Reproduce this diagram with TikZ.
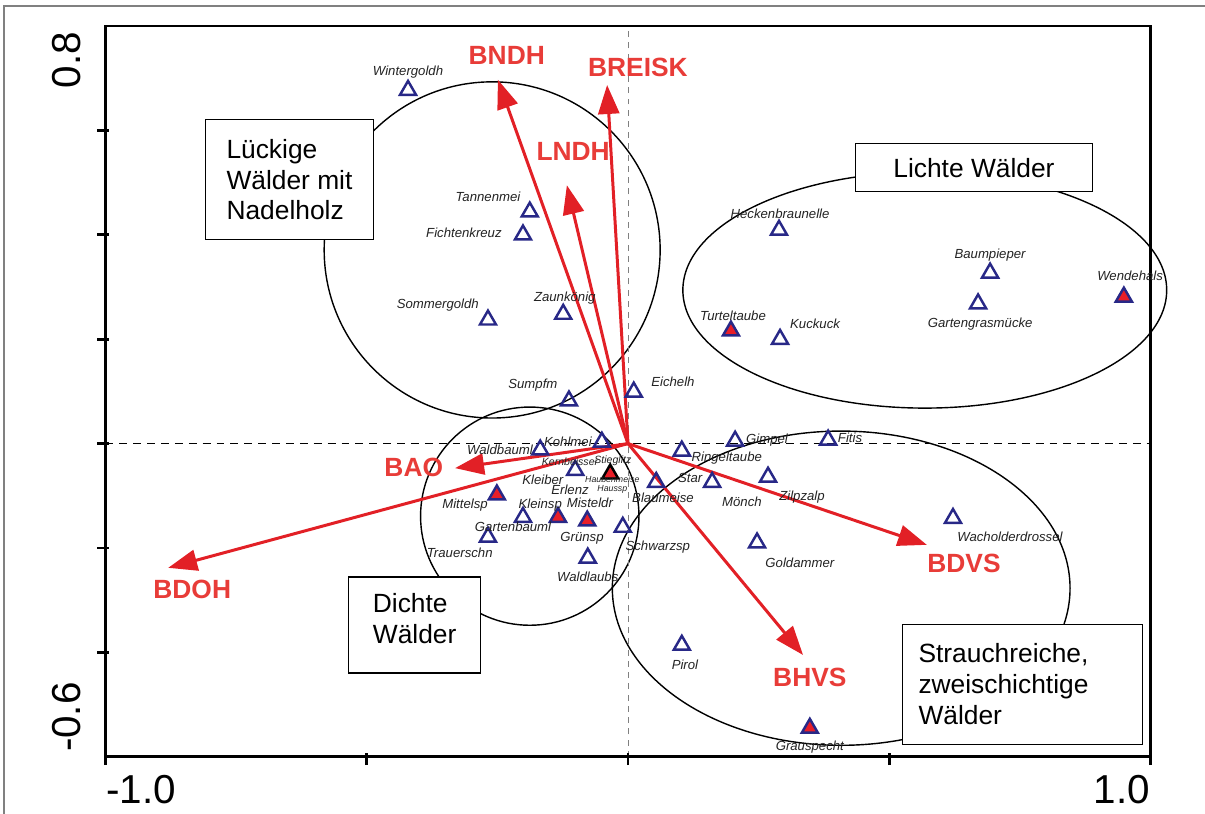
\documentclass[tikz,border=0pt]{standalone}
\usepackage{fontspec}
\setmainfont{Liberation Sans}
\usepackage{xcolor}
\definecolor{vecred}{RGB}{226,32,38}
\definecolor{veclabel}{RGB}{232,60,56}
\definecolor{birdblue}{RGB}{40,40,135}
\definecolor{birdfillred}{RGB}{232,30,40}
\definecolor{labgrey}{RGB}{35,35,35}
\usetikzlibrary{arrows.meta}
\usetikzlibrary{shapes.geometric}
\usetikzlibrary{positioning}

\tikzset{
	vec/.style={vecred, line width=1.7pt, -{Triangle[length=0.58cm,width=0.42cm]}},
	veclab/.style={text=veclabel, font=\fontsize{15}{18}\selectfont\bfseries, inner sep=0pt},
	bird/.style={regular polygon, regular polygon sides=3, draw=birdblue, line width=1.4pt, minimum size=0.37cm, inner sep=0pt},
	birdfill/.style={bird, fill=birdfillred},
	lab/.style={text=labgrey, font=\fontsize{7.5}{8}\selectfont\itshape, inner sep=0pt},
	group/.style={draw, fill=white, line width=0.8pt, font=\fontsize{15}{17.6}\selectfont, anchor=north west, inner sep=0pt, align=left},
	ticklab/.style={font=\fontsize{23}{26}\selectfont, inner sep=0pt}
}

\begin{document}
\begin{tikzpicture}
		\useasboundingbox (0,0) rectangle (24.1,16.28);
		%outer frame
		\draw[gray, line width=0.7pt] (0.08,-1) -- (0.08,16.16) -- (25,16.16);

		\begin{scope}[shift={(12.56,7.408)}, x=10.45cm, y=10.44cm]
		%draw group ellipses
		\draw[line width=0.8pt] (-0.26,0.371) ellipse [x radius=0.3215, y radius=0.322];
		\draw[line width=0.8pt] (0.568,0.294) ellipse [x radius=0.463, y radius=0.226];
		\draw[line width=0.8pt] (-0.188,-0.139) ellipse [x radius=0.209, y radius=0.209];
		\draw[line width=0.8pt] (0.408,-0.277) ellipse [x radius=0.438, y radius=0.301];

		%draw axes
		\draw[gray, line width=0.5pt, dash pattern=on 3.4pt off 3pt] (0,-0.6) -- (0,0.8);
		\draw[line width=0.75pt, dash pattern=on 4.5pt off 3.4pt] (-1,0) -- (1,0);
		\draw[line width=1.6pt] (-1,-0.6) rectangle (1,0.8);
		\foreach \y in {0.6,0.4,0.2,0,-0.2,-0.4}
		\draw[line width=1.6pt] (-1.016,\y) -- (-0.994,\y);
		\foreach \x in {-1,-0.5,0,0.5,1}
		\draw[line width=1.6pt] (\x,-0.616) -- (\x,-0.592);

		%tick labels
		\node[ticklab, rotate=90] (ytop) at (-1.074,0.735) {0.8};
		\node[ticklab, rotate=90] (ybot) at (-1.074,-0.524) {-0.6};
		\node[ticklab] (xleft) at (-0.932,-0.662) {-1.0};
		\node[ticklab] (xright) at (0.945,-0.662) {1.0};

		%environment vectors
		\coordinate (o) at (0,0);
		\coordinate (bndh) at (-0.249,0.697);
		\coordinate (breisk) at (-0.040,0.687);
		\coordinate (lndh) at (-0.117,0.495);
		\coordinate (bao) at (-0.331,-0.047);
		\coordinate (bdoh) at (-0.880,-0.238);
		\coordinate (bdvs) at (0.572,-0.194);
		\coordinate (bhvs) at (0.335,-0.405);
		\foreach \v in {bndh,breisk,lndh,bao,bdoh,bdvs,bhvs}
		\draw[vec] (o) -- (\v);
		\node[veclab] (l-bndh) at (-0.232,0.744) {BNDH};
		\node[veclab] (l-breisk) at (0.019,0.72) {BREISK};
		\node[veclab] (l-lndh) at (-0.105,0.56) {LNDH};
		\node[veclab] (l-bao) at (-0.41,-0.045) {BAO};
		\node[veclab] (l-bdoh) at (-0.834,-0.28) {BDOH};
		\node[veclab] (l-bdvs) at (0.643,-0.229) {BDVS};
		\node[veclab] (l-bhvs) at (0.348,-0.447) {BHVS};

		%species
		\foreach \n/\x/\y in {wintergoldh/-0.421/0.677, tannenmei/-0.188/0.444, fichtenkreuz/-0.201/0.400,
			sommergoldh/-0.268/0.237, zaunkoenig/-0.124/0.248, sumpfm/-0.113/0.082, eichelh/0.011/0.099,
			heckenbr/0.289/0.409, baumpieper/0.693/0.327, gartengras/0.670/0.268, kuckuck/0.291/0.200,
			gimpel/0.205/0.005, fitis/0.383/0.007, ringeltaube/0.103/-0.014, star/0.161/-0.074,
			zilpzalp/0.268/-0.064, blaumeise/0.054/-0.074, goldammer/0.247/-0.190, schwarzsp/-0.010/-0.160,
			pirol/0.103/-0.386, wacholder/0.622/-0.143, kohlmei/-0.050/0.003, waldbauml/-0.168/-0.012,
			kernbeisser/-0.101/-0.051, gartenbauml/-0.201/-0.141, trauerschn/-0.268/-0.179, waldlaubs/-0.077/-0.219}
		\node[bird] (t-\n) at (\x,\y) {};
		\foreach \n/\x/\y in {wendehals/0.949/0.281, turteltaube/0.197/0.216, grauspecht/0.348/-0.545,
			mittelsp/-0.251/-0.098, kleinsp/-0.134/-0.141, misteldr/-0.078/-0.148}
		\node[birdfill] (t-\n) at (\x,\y) {};
		\node[birdfill, draw=black] (t-stieglitz) at (-0.034,-0.058) {};

		%species names
		\foreach \n/\x/\y/\t in {wintergoldh/-0.421/0.712/Wintergoldh, tannenmei/-0.268/0.473/Tannenmei,
			fichtenkreuz/-0.314/0.404/Fichtenkreuz, sommergoldh/-0.364/0.266/Sommergoldh,
			zaunkoenig/-0.121/0.279/Zaunkönig, sumpfm/-0.182/0.112/Sumpfm, eichelh/0.086/0.118/Eichelh,
			heckenbr/0.291/0.440/Heckenbraunelle, baumpieper/0.693/0.361/Baumpieper,
			gartengras/0.674/0.229/Gartengrasmücke, wendehals/0.961/0.321/Wendehals,
			turteltaube/0.201/0.244/Turteltaube, kuckuck/0.358/0.229/Kuckuck, gimpel/0.266/0.007/Gimpel,
			fitis/0.425/0.011/Fitis, ringeltaube/0.189/-0.028/Ringeltaube, star/0.119/-0.066/Star,
			moench/0.218/-0.112/Mönch, zilpzalp/0.333/-0.102/Zilpzalp, blaumeise/0.067/-0.104/Blaumeise,
			goldammer/0.329/-0.229/Goldammer, schwarzsp/0.057/-0.198/Schwarzsp, pirol/0.109/-0.424/Pirol,
			grauspecht/0.348/-0.581/Grauspecht, wacholder/0.731/-0.179/Wacholderdrossel,
			kohlmei/-0.115/0.003/Kohlmei, waldbauml/-0.245/-0.012/Waldbauml, kleiber/-0.163/-0.070/Kleiber,
			erlenz/-0.111/-0.089/Erlenz, mittelsp/-0.312/-0.118/Mittelsp, kleinsp/-0.168/-0.118/Kleinsp,
			misteldr/-0.073/-0.114/Misteldr, gartenbauml/-0.220/-0.160/Gartenbauml,
			trauerschn/-0.322/-0.210/Trauerschn, gruensp/-0.088/-0.181/Grünsp, waldlaubs/-0.077/-0.256/Waldlaubs}
		\node[lab] (l-\n) at (\x,\y) {\t};
		\node[lab, font=\fontsize{6}{6.5}\selectfont\itshape] (l-kernbeisser) at (-0.111,-0.035) {Kernbeisser};
		\node[lab, font=\fontsize{6}{6.5}\selectfont\itshape] (l-stieglitz) at (-0.029,-0.033) {Stieglitz};
		\node[lab, font=\fontsize{5}{5.5}\selectfont\itshape, align=center] (l-haubenm) at (-0.030,-0.079) {Haubenmeise\\Haussp};

		%group boxes
		\node[group, minimum width=3.36cm, minimum height=2.4cm] (lueckig) at (-0.81,0.622) {Lückige\\Wälder mit\\Nadelholz};
		\node[group, minimum width=4.74cm, minimum height=0.96cm] (lichte) at (0.434,0.576) {Lichte Wälder};
		\node[group, minimum width=2.64cm, minimum height=1.92cm, text depth=0.25cm] (dichte) at (-0.536,-0.254) {Dichte\\Wälder};
		\node[group, minimum height=2.4cm, text width=4.16cm, inner xsep=0.32cm] (strauch) at (0.524,-0.345) {Strauchreiche,\\zweischichtige\\Wälder};
		\end{scope}
\end{tikzpicture}
\end{document}
